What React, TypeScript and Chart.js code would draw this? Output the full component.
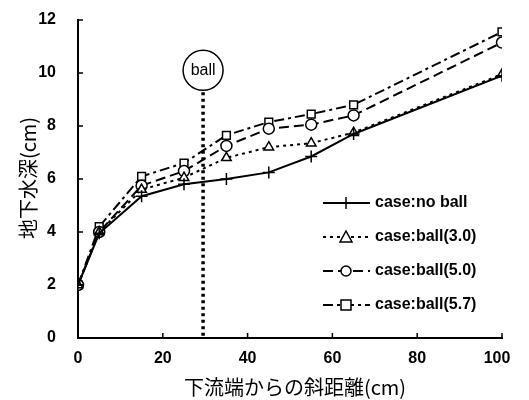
import React, { useEffect, useRef } from "react";
import { Chart, registerables } from "chart.js";

Chart.register(...registerables);

const distances = [0, 5, 15, 25, 35, 45, 55, 65, 100];
const noBall = [2.0, 3.95, 5.35, 5.8, 6.0, 6.25, 6.85, 7.7, 9.9];
const ball30 = [2.0, 4.0, 5.6, 6.05, 6.8, 7.2, 7.35, 7.75, 9.95];
const ball50 = [2.0, 4.0, 5.75, 6.3, 7.25, 7.9, 8.05, 8.4, 11.15];
const ball57 = [2.0, 4.2, 6.1, 6.6, 7.65, 8.15, 8.45, 8.8, 11.55];
const seriesLabels = ["case:no ball", "case:ball(3.0)", "case:ball(5.0)", "case:ball(5.7)"];
const yTicks = [0, 2, 4, 6, 8, 10, 12];
const xTicks = [0, 20, 40, 60, 80, 100];
const ballPosition = 29.5;
const yTitle = "地下水深(cm)";
const xTitle = "下流端からの斜距離(cm)";

const TICK_FONT = "bold 16px 'Liberation Sans', Arial, sans-serif";
const TITLE_FONT = "20px 'Noto Sans CJK JP', sans-serif";
const LEGEND_FONT = "bold 16px 'Liberation Sans', Arial, sans-serif";

const styles = [
  { dash: [] as number[], point: "cross" },
  { dash: [3, 4], point: "triangle" },
  { dash: [10, 5], point: "circle" },
  { dash: [10, 4, 3, 4], point: "rect" },
];

function drawMarker(ctx: CanvasRenderingContext2D, kind: string, x: number, y: number) {
  ctx.save();
  ctx.setLineDash([]);
  ctx.lineWidth = 1.5;
  ctx.strokeStyle = "#000";
  ctx.fillStyle = "#fff";
  ctx.beginPath();
  if (kind === "cross") {
    ctx.moveTo(x, y - 6);
    ctx.lineTo(x, y + 6);
    ctx.moveTo(x - 6, y);
    ctx.lineTo(x + 6, y);
    ctx.stroke();
  } else if (kind === "triangle") {
    ctx.moveTo(x, y - 6);
    ctx.lineTo(x + 6, y + 5);
    ctx.lineTo(x - 6, y + 5);
    ctx.closePath();
    ctx.fill();
    ctx.stroke();
  } else if (kind === "circle") {
    ctx.arc(x, y, 5, 0, Math.PI * 2);
    ctx.fill();
    ctx.stroke();
  } else {
    ctx.rect(x - 5, y - 5, 10, 10);
    ctx.fill();
    ctx.stroke();
  }
  ctx.restore();
}

const decorPlugin = {
  id: "decor",
  beforeDatasetsDraw(chart: any) {
    const { ctx, scales } = chart;
    const xs = scales.x;
    const ys = scales.y;
    const bx = xs.getPixelForValue(ballPosition);
    const cy = ys.getPixelForValue(10.1);
    const r = 20;
    ctx.save();
    ctx.strokeStyle = "#000";
    ctx.lineWidth = 3.5;
    ctx.setLineDash([3, 3.5]);
    ctx.beginPath();
    ctx.moveTo(bx, cy + r + 2);
    ctx.lineTo(bx, ys.getPixelForValue(0));
    ctx.stroke();
    ctx.setLineDash([]);
    ctx.lineWidth = 1.5;
    ctx.beginPath();
    ctx.arc(bx, cy, r, 0, Math.PI * 2);
    ctx.stroke();
    ctx.fillStyle = "#000";
    ctx.font = "16px 'Liberation Sans', Arial, sans-serif";
    ctx.textAlign = "center";
    ctx.textBaseline = "middle";
    ctx.fillText("ball", bx, cy);
    ctx.restore();
  },
  afterDatasetsDraw(chart: any) {
    const { ctx, scales } = chart;
    const xs = scales.x;
    const ys = scales.y;
    const left = xs.left;
    const bottom = ys.bottom;
    ctx.save();
    ctx.strokeStyle = "#000";
    ctx.lineWidth = 1.5;
    ctx.setLineDash([]);
    ctx.beginPath();
    yTicks.forEach((v) => {
      const y = ys.getPixelForValue(v);
      ctx.moveTo(left, y);
      ctx.lineTo(left + 5, y);
    });
    xTicks.forEach((v) => {
      const x = xs.getPixelForValue(v);
      ctx.moveTo(x, bottom);
      ctx.lineTo(x, bottom - 5);
    });
    ctx.stroke();
    ctx.fillStyle = "#000";
    ctx.font = TICK_FONT;
    ctx.textAlign = "right";
    ctx.textBaseline = "middle";
    yTicks.forEach((v) => ctx.fillText(String(v), 56, ys.getPixelForValue(v)));
    ctx.textAlign = "center";
    xTicks.forEach((v) => ctx.fillText(String(v), xs.getPixelForValue(v) - (v === 100 ? 5 : 0), 359));
    ctx.font = TITLE_FONT;
    ctx.fillText(xTitle, 295, 387);
    ctx.save();
    ctx.translate(28, 178);
    ctx.rotate(-Math.PI / 2);
    ctx.fillText(yTitle, 0, 0);
    ctx.restore();
    const legY = [203, 237, 271, 305];
    chart.data.datasets.forEach((ds: any, i: number) => {
      const y = legY[i];
      ctx.save();
      ctx.lineWidth = 2;
      ctx.setLineDash(styles[i].dash);
      ctx.beginPath();
      ctx.moveTo(323, y);
      ctx.lineTo(370, y);
      ctx.stroke();
      ctx.restore();
      drawMarker(ctx, styles[i].point, 346, y);
      ctx.font = LEGEND_FONT;
      ctx.textAlign = "left";
      ctx.textBaseline = "middle";
      ctx.fillText(ds.label, 375, y);
    });
    ctx.restore();
  },
};

export default function App() {
  const ref = useRef<HTMLCanvasElement>(null);
  useEffect(() => {
    if (!ref.current) return;
    const all = [noBall, ball30, ball50, ball57];
    const chart = new Chart(ref.current, {
      type: "line",
      data: {
        datasets: all.map((vals, i) => ({
          label: seriesLabels[i],
          data: vals.map((v, j) => ({ x: distances[j], y: v })),
          borderColor: "#000",
          backgroundColor: "#fff",
          borderWidth: 2,
          borderDash: styles[i].dash,
          pointStyle: styles[i].point as any,
          pointRadius: styles[i].point === "cross" ? 6 : 5.5,
          pointBorderWidth: 1.5,
          pointBorderColor: "#000",
          pointBackgroundColor: "#fff",
          tension: 0,
        })),
      },
      options: {
        animation: false,
        responsive: true,
        maintainAspectRatio: false,
        layout: { padding: { left: 0, right: 27, top: 20, bottom: 0 } },
        plugins: { legend: { display: false }, tooltip: { enabled: false } },
        scales: {
          x: {
            type: "linear",
            min: 0,
            max: 100,
            ticks: { display: false, stepSize: 20 },
            grid: { display: false, drawTicks: false },
            border: { display: true, color: "#000", width: 2 },
            afterFit: (s: any) => {
              s.height = 62;
            },
          },
          y: {
            min: 0,
            max: 12,
            ticks: { display: false, stepSize: 2 },
            grid: { display: false, drawTicks: false },
            border: { display: true, color: "#000", width: 2 },
            afterFit: (s: any) => {
              s.width = 78;
            },
          },
        },
      },
      plugins: [decorPlugin],
    });
    return () => chart.destroy();
  }, []);
  return (
    <div style={{ position: "fixed", left: 0, top: 0, width: 529, height: 400, background: "#fff" }}>
      <canvas ref={ref} />
    </div>
  );
}
